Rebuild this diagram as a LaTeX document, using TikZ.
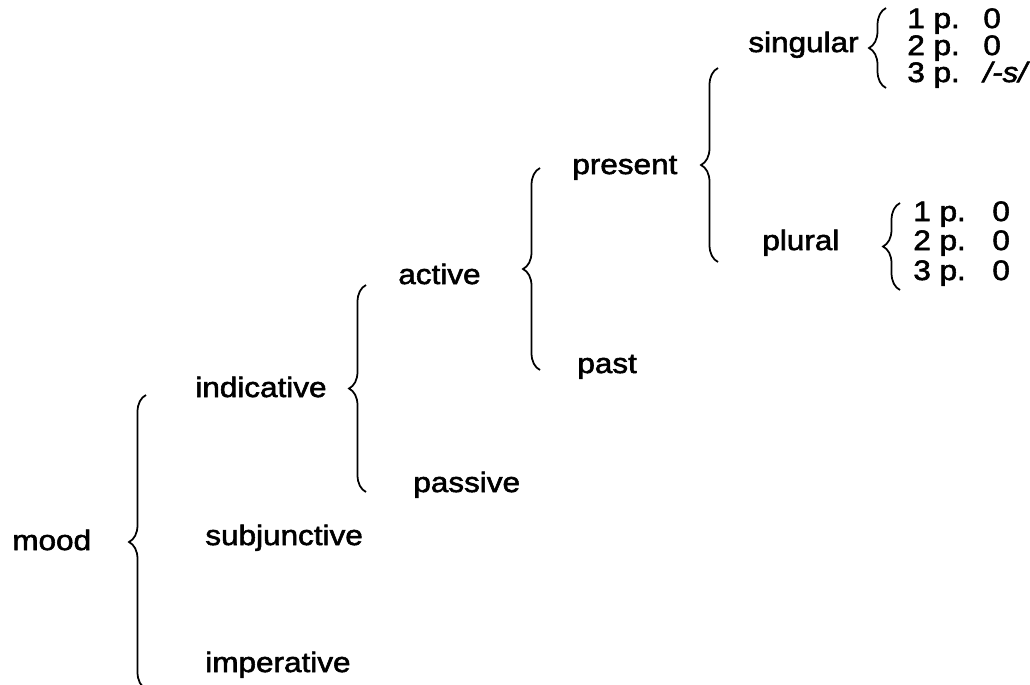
\documentclass[tikz,border=0pt]{standalone}
\usepackage{fontspec}
\setmainfont{Liberation Sans}[FakeStretch=1.12, FakeBold=2]
\usetikzlibrary{decorations.pathreplacing}

\begin{document}
\begin{tikzpicture}[x=0.02cm, y=-0.02cm,
    word/.style={anchor=base west, inner sep=0pt, font=\fontsize{16}{19}\selectfont},
    curly/.style={decorate, decoration={brace, amplitude=0.34cm}, line width=1pt}
]
\useasboundingbox (0,0) rectangle (1030,684);

% Mood
\node[word] (mood) at (12,550) {mood};
\node[word] (indicative) at (195,397) {indicative};
\node[word] (subjunctive) at (205,545) {subjunctive};
\node[word] (imperative) at (205,672) {imperative};

% Voice
\node[word] (active) at (398,284) {active};
\node[word] (passive) at (413,492) {passive};

% Tense
\node[word] (present) at (572,174) {present};
\node[word] (past) at (577,373) {past};

% Number
\node[word] (singular) at (748,52) {singular};
\node[word] (plural) at (762,250) {plural};

% Person
\node[word] (sg1) at (907,28) {1 p.};
\node[word] (sg2) at (907,55) {2 p.};
\node[word] (sg3) at (907,82) {3 p.};
\node[word] (sg1e) at (983,28) {0};
\node[word] (sg2e) at (983,55) {0};
\node[word] (sg3e) at (983,82) {\textit{/-s/}};
\node[word] (pl1) at (913,221) {1 p.};
\node[word] (pl2) at (913,250) {2 p.};
\node[word] (pl3) at (913,280) {3 p.};
\node[word] (pl1e) at (992,221) {0};
\node[word] (pl2e) at (992,250) {0};
\node[word] (pl3e) at (992,280) {0};

% Brace ends
\coordinate (mood-top) at (146,395);
\coordinate (mood-bot) at (146,689);
\coordinate (ind-top) at (366,285);
\coordinate (ind-bot) at (366,492);
\coordinate (act-top) at (540,168);
\coordinate (act-bot) at (540,370);
\coordinate (pres-top) at (718,68);
\coordinate (pres-bot) at (718,262);
\coordinate (sg-top) at (886,8);
\coordinate (sg-bot) at (886,88);
\coordinate (pl-top) at (900,203);
\coordinate (pl-bot) at (900,290);

% Braces
\draw[curly] (mood-bot) -- (mood-top);
\draw[curly] (ind-bot) -- (ind-top);
\draw[curly] (act-bot) -- (act-top);
\draw[curly] (pres-bot) -- (pres-top);
\draw[curly] (sg-bot) -- (sg-top);
\draw[curly] (pl-bot) -- (pl-top);

\end{tikzpicture}
\end{document}
